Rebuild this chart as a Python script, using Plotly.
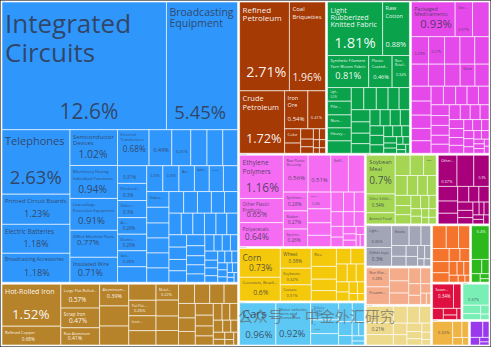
import plotly.graph_objects as go

# ---------------- data: share of total exports (%) ----------------
machines_names = ["Integrated Circuits", "Broadcasting Equipment", "Telephones", "Printed Circuit Boards",
                  "Electric Batteries", "Broadcasting Accessories", "Semiconductor Devices",
                  "Machinery Having Individual Functions", "Low-voltage Protection Equipment",
                  "Office Machine Parts", "Insulated Wire", "Electrical Transformers", "Electric Motors",
                  "Electric Heaters", "Computers", "Liquid Pumps", "Valves", "Electrical Lighting Equipment",
                  "Electrical Control Boards", "Other Electrical Machinery", "Air Pumps",
                  "Electric Soldering Equipment", "Gas Turbines", "Vacuum Cleaners", "Centrifuges",
                  "Electric Filament", "Air Conditioners", "Audio Alarms", "Other Heating Machinery",
                  "Video Displays"]
machines_values = [12.6, 5.45, 2.63, 1.23, 1.18, 1.18, 1.02, 0.94, 0.91, 0.77, 0.71, 0.68, 0.49, 0.41,
                   0.35, 0.34, 0.32, 0.31, 0.30, 0.30, 0.29, 0.29, 0.28, 0.27, 0.25, 0.25, 0.24, 0.23,
                   0.22, 0.21]
machines_other = [0.22, 0.21, 0.2, 0.2, 0.2, 0.19, 0.19, 0.18, 0.18, 0.17, 0.17, 0.16, 0.15, 0.15, 0.15,
                  0.14, 0.14, 0.13, 0.13, 0.12, 0.12, 0.12, 0.11, 0.1, 0.1, 0.09, 0.09, 0.08, 0.08, 0.07,
                  0.07, 0.06, 0.06, 0.05, 0.05, 0.05, 0.04, 0.04, 0.04, 0.03, 0.03, 0.03, 0.02, 0.02, 0.02]

metals_names = ["Hot-Rolled Iron", "Refined Copper", "Large Flat-Rolled Iron", "Scrap Iron", "Raw Aluminium",
                "Aluminium Plating", "Aluminium Bars", "Iron Structures", "Copper Wire",
                "Flat Flat-Rolled Steel", "Iron Fasteners", "Metal Stoppers"]
metals_values = [1.52, 0.68, 0.57, 0.47, 0.41, 0.39, 0.36, 0.34, 0.27, 0.26, 0.25, 0.22]
metals_other = [0.24, 0.22, 0.2, 0.2, 0.19, 0.18, 0.17, 0.16, 0.15, 0.14, 0.14, 0.13, 0.12, 0.11, 0.1,
                0.09, 0.08, 0.08, 0.07, 0.06, 0.05, 0.05, 0.04, 0.04, 0.03, 0.03]

mineral_names = ["Refined Petroleum", "Coal Briquettes", "Crude Petroleum", "Iron Ore", "Petroleum Gas", "Coke"]
mineral_values = [2.71, 1.96, 1.72, 0.54, 0.41, 0.14]
mineral_other = [0.1, 0.08, 0.06, 0.05, 0.04, 0.04, 0.03, 0.03, 0.02, 0.02]

textiles_names = ["Light Rubberized Knitted Fabric", "Raw Cotton", "Synthetic Filament Yarn Woven Fabric",
                  "Plastic Coated Textiles", "Non-Retail Synthetic Filament Yarn", "Light Pure Woven Cotton",
                  "Pile Fabric", "Non-woven Textiles", "Heavy Pure Woven Cotton"]
textiles_values = [1.81, 0.88, 0.81, 0.46, 0.34, 0.2, 0.2, 0.19, 0.19]
textiles_other = [0.18, 0.17, 0.17, 0.16, 0.15, 0.14, 0.14, 0.13, 0.12, 0.11, 0.1, 0.1, 0.1, 0.09, 0.08,
                  0.08, 0.07, 0.06, 0.06, 0.05, 0.05, 0.04, 0.04, 0.03, 0.03, 0.03, 0.02, 0.02]

chemicals_names = ["Packaged Medicaments", "Decorative Chemical Products", "Nitrogenous Fertilizers",
                   "Cyclic Hydrocarbons", "Other Organic Compounds", "Soap", "Beauty Products", "Pesticides",
                   "Paints", "Other Chemical Products", "Titanium Oxides", "Glues"]
chemicals_values = [0.93, 0.37, 0.35, 0.29, 0.27, 0.26, 0.25, 0.24, 0.23, 0.22, 0.21, 0.2]
chemicals_other = [0.19, 0.18, 0.17, 0.16, 0.15, 0.15, 0.14, 0.14, 0.13, 0.13, 0.12, 0.12, 0.11, 0.11,
                   0.1, 0.1, 0.1, 0.09, 0.09, 0.08, 0.08, 0.08, 0.07, 0.07, 0.06, 0.06, 0.05, 0.05, 0.05,
                   0.04, 0.04, 0.04, 0.03, 0.03, 0.03, 0.02, 0.02]

plastics_names = ["Ethylene Polymers", "Other Plastic Products", "Polyacetals", "Raw Plastic Sheeting",
                  "Propylene Polymers", "Self-adhesive Plastics", "Plastic Lids", "Synthetic Rubber",
                  "Rubber Tires", "Styrene Polymers", "Other Rubber Products"]
plastics_values = [1.16, 0.65, 0.64, 0.56, 0.51, 0.4, 0.36, 0.28, 0.27, 0.26, 0.24]
plastics_other = [0.2, 0.18, 0.16, 0.15, 0.13, 0.12, 0.11, 0.1, 0.09, 0.08, 0.07, 0.06, 0.05, 0.05,
                  0.04, 0.03, 0.03]

vegetable_names = ["Corn", "Coconuts, Brazil Nuts, and Cashews", "Wheat", "Soybeans", "Cassava", "Rice"]
vegetable_values = [0.73, 0.6, 0.38, 0.32, 0.31, 0.28]
vegetable_other = [0.2, 0.18, 0.16, 0.14, 0.13, 0.12, 0.1, 0.09, 0.08, 0.07, 0.06, 0.05, 0.04, 0.03]

transport_names = ["Cars", "Motor vehicles; parts and accessories", "Delivery Trucks", "Tractors"]
transport_values = [0.96, 0.92, 0.3, 0.24]
transport_other = [0.2, 0.16, 0.14, 0.12, 0.08, 0.06, 0.05, 0.04, 0.03]

food_names = ["Soybean Meal", "Other Edible Preparations", "Animal Food", "Raw Sugar"]
food_values = [0.7, 0.34, 0.2, 0.16]
food_other = [0.19, 0.17, 0.15, 0.13, 0.12, 0.11, 0.1, 0.09, 0.09, 0.08, 0.07, 0.06, 0.05, 0.05, 0.04,
              0.04, 0.03, 0.03]

footwear_names = ["Other Footwear", "Rubber Footwear", "Leather Footwear", "Textile Footwear", "Footwear Parts"]
footwear_values = [0.37, 0.33, 0.3, 0.18, 0.15]
footwear_other = [0.13, 0.11, 0.1, 0.1, 0.08, 0.07, 0.06, 0.05, 0.04, 0.04, 0.03, 0.03, 0.03]

misc_names = ["Light Fixtures", "Other Toys", "Seats"]
misc_values = [0.35, 0.3, 0.22]
misc_other = [0.15, 0.12, 0.1, 0.09, 0.08, 0.07, 0.06, 0.05, 0.03, 0.03]

animal_names = ["Non-fillet Frozen Fish", "Frozen Fish Fillets"]
animal_values = [0.28, 0.26]
animal_other = [0.16, 0.15, 0.14, 0.12, 0.1, 0.09, 0.07, 0.06, 0.04, 0.03]

stone_names = ["Kaolin", "Glass Fibers"]
stone_values = [0.28, 0.21]
stone_other = [0.18, 0.15, 0.13, 0.12, 0.1, 0.09, 0.08, 0.07, 0.06, 0.05, 0.04, 0.03]

instr_names = ["Medical Instruments", "Optical Fibers"]
instr_values = [0.2, 0.18]
instr_other = [0.16, 0.14, 0.12, 0.1, 0.09, 0.08, 0.07, 0.06, 0.05, 0.04, 0.03, 0.02]

byprod_names = ["Palm Oil"]
byprod_values = [0.4]
byprod_other = [0.1, 0.07, 0.05, 0.03, 0.02]

wood_names = ["Sawn Wood"]
wood_values = [0.34]
wood_other = [0.12, 0.08, 0.06, 0.04, 0.03]

paper_names = ["Uncoated Paper"]
paper_values = [0.37]
paper_other = [0.1, 0.07, 0.05, 0.03]

hides_names = ["Tanned Hides"]
hides_values = [0.32]
hides_other = [0.1, 0.07, 0.05, 0.03]

precious_names = ["Gold"]
precious_values = [0.14]
precious_other = [0.07, 0.05, 0.03, 0.02]

# ---------------- styling ----------------
DARK = "rgba(50,52,70,0.82)"
LIGHT = "rgba(255,255,255,0.95)"

sectors = [
    ("Machines", "#2f96fb", DARK, machines_names, machines_values, machines_other),
    ("Metals", "#b7832a", LIGHT, metals_names, metals_values, metals_other),
    ("Mineral Products", "#a53a05", LIGHT, mineral_names, mineral_values, mineral_other),
    ("Textiles", "#0aa34b", LIGHT, textiles_names, textiles_values, textiles_other),
    ("Chemical Products", "#e549ea", DARK, chemicals_names, chemicals_values, chemicals_other),
    ("Plastics and Rubbers", "#f56cf2", DARK, plastics_names, plastics_values, plastics_other),
    ("Vegetable Products", "#f4c80b", DARK, vegetable_names, vegetable_values, vegetable_other),
    ("Transportation", "#5dc8f3", DARK, transport_names, transport_values, transport_other),
    ("Foodstuffs", "#a4d654", DARK, food_names, food_values, food_other),
    ("Footwear and Headwear", "#a8007a", LIGHT, footwear_names, footwear_values, footwear_other),
    ("Miscellaneous", "#a2a5b6", DARK, misc_names, misc_values, misc_other),
    ("Animal Products", "#f5ac8a", DARK, animal_names, animal_values, animal_other),
    ("Stone And Glass", "#eeda8c", DARK, stone_names, stone_values, stone_other),
    ("Instruments", "#f4742d", LIGHT, instr_names, instr_values, instr_other),
    ("Animal and Vegetable Bi-Products", "#2db91e", LIGHT, byprod_names, byprod_values, byprod_other),
    ("Wood Products", "#df0f3f", LIGHT, wood_names, wood_values, wood_other),
    ("Paper Goods", "#79efb5", DARK, paper_names, paper_values, paper_other),
    ("Animal Hides", "#f0b444", DARK, hides_names, hides_values, hides_other),
    ("Precious Metals", "#9a38ee", LIGHT, precious_names, precious_values, precious_other),
]

# name: (shown label, show share, line-spacing font px, label px, share px, blank lines, share indent px)
STYLE = {
    "Integrated Circuits": ("Integrated<br>Circuits", True, 22, 26, 21, 1, 52),
    "Broadcasting Equipment": ("Broadcasting<br>Equipment", True, 8.8, 10.5, 18.5, 7, 6),
    "Telephones": ("Telephones", True, 15, 11, 18.5, 1, 5),
    "Printed Circuit Boards": ("Printed Circuit Boards", True, 10.5, 6, 9.2, 0, 18),
    "Electric Batteries": ("Electric Batteries", True, 10.5, 6.5, 9.2, 0, 18),
    "Broadcasting Accessories": ("Broadcasting Accessories", True, 11.5, 5, 9.2, 0, 18),
    "Semiconductor Devices": ("Semiconductor<br>Devices", True, 5.2, 6, 10.7, 1, 5),
    "Machinery Having Individual Functions": ("Machinery Having<br>Individual Functions", True, 5.2, 4.5, 10.7, 1, 5),
    "Low-voltage Protection Equipment": ("Low-voltage<br>Protection Equipment", True, 5.2, 4.5, 10.7, 1, 5),
    "Office Machine Parts": ("Office Machine Parts", True, 7, 5, 9.3, 0, 5),
    "Insulated Wire": ("Insulated Wire", True, 8, 5.5, 9.3, 0, 5),
    "Electrical Transformers": ("Electrical<br>Transformers", True, 4.5, 4.2, 9.3, 1, 2),
    "Electric Motors": ("", True, 6, 6, 6, 2, 2),
    "Electric Heaters": ("", True, 5, 5, 5, 3, 1),
    "Electrical Lighting Equipment": ("", True, 5, 5, 5, 1, 3),
    "Electrical Control Boards": ("Electrical...", True, 5, 4, 4.8, 0, 3),
    "Other Electrical Machinery": ("Other...", True, 5, 4, 4.8, 0, 3),
    "Air Pumps": ("Air...", True, 5, 4, 4.8, 0, 3),
    "Electric Soldering Equipment": ("Electric...", True, 5, 4, 4.8, 0, 3),
    "Gas Turbines": ("Gas...", True, 5, 4, 4.8, 0, 3),
    "Centrifuges": ("", True, 5, 4.8, 4.8, 1, 1),
    "Electric Filament": ("", True, 5, 4.8, 4.8, 1, 1),
    "Air Conditioners": ("Air...", False, 4.5, 4, 4, 0, 0),
    "Audio Alarms": ("Audio...", False, 4.5, 4, 4, 0, 0),
    "Other Heating Machinery": ("Other...", False, 4.5, 4, 4, 0, 0),
    "Video Displays": ("Video...", False, 4.5, 4, 4, 0, 0),
    # metals
    "Hot-Rolled Iron": ("Hot-Rolled Iron", True, 9.4, 7, 13.4, 1, 7),
    "Refined Copper": ("Refined Copper", True, 6, 4.5, 5, 0, 18),
    "Large Flat-Rolled Iron": ("Large Flat-Rolled...", True, 8.8, 4.3, 7, 0, 6),
    "Scrap Iron": ("Scrap Iron", True, 5, 4.5, 6.5, 0, 5),
    "Raw Aluminium": ("Raw Aluminium", True, 5, 4.3, 6.2, 0, 5),
    "Aluminium Plating": ("Aluminium...", True, 5, 4, 5.5, 0, 5),
    "Flat Flat-Rolled Steel": ("Flat Flat-...", True, 5, 4, 5, 0, 3),
    "Iron Fasteners": ("Iron...", False, 4.5, 4, 4, 0, 0),
    "Metal Stoppers": ("Metal...", True, 5, 4, 4.5, 0, 2),
    # mineral products
    "Refined Petroleum": ("Refined<br>Petroleum", True, 6.5, 8.5, 15.2, 6, 4),
    "Coal Briquettes": ("Coal<br>Briquettes", True, 6, 6, 10.4, 7, 1),
    "Crude Petroleum": ("Crude<br>Petroleum", True, 6.7, 7.8, 13.3, 3, 3),
    "Iron Ore": ("Iron<br>Ore", True, 5.5, 5.5, 6, 1, 0),
    "Petroleum Gas": ("", True, 4.5, 4.5, 4.5, 4, 0),
    "Coke": ("Coke", False, 4.5, 4.5, 4.5, 0, 0),
    # textiles
    "Light Rubberized Knitted Fabric": ("Light<br>Rubberized<br>Knitted Fabric", True, 5.6, 7.5, 15.4, 2, 4),
    "Raw Cotton": ("Raw<br>Cotton", True, 6.2, 6, 8.1, 3, 1),
    "Synthetic Filament Yarn Woven Fabric": ("Synthetic Filament<br>Yarn Woven Fabric", True, 4.5, 4.2, 9.5, 1, 6),
    "Plastic Coated Textiles": ("Plastic<br>Coated...", True, 4.5, 4.2, 6, 1, 1),
    "Non-Retail Synthetic Filament Yarn": ("Non-<br>Retail...", True, 4.5, 4, 4.5, 1, 1),
    "Light Pure Woven Cotton": ("Ligh...", True, 5, 4.2, 4.2, 0, 0),
    "Pile Fabric": ("Pile...", False, 4.5, 4.2, 4.2, 0, 0),
    "Non-woven Textiles": ("Non...", False, 4.5, 4.2, 4.2, 0, 0),
    "Heavy Pure Woven Cotton": ("Heavy...", False, 4.5, 4.2, 4.2, 0, 0),
    # chemicals
    "Packaged Medicaments": ("Packaged<br>Medicaments", True, 4.6, 5.5, 11.8, 1, 6),
    "Decorative Chemical Products": ("Dec...", True, 4.5, 4, 4, 3, 0),
    "Cyclic Hydrocarbons": ("", True, 4.5, 4, 4.2, 2, 0),
    "Other Organic Compounds": ("", True, 4.5, 4, 4.2, 2, 0),
    "Glues": ("Glues", False, 4.5, 4, 4, 0, 0),
    # plastics
    "Ethylene Polymers": ("Ethylene<br>Polymers", True, 7, 6.5, 11.9, 1, 4),
    "Other Plastic Products": ("Other Plastic<br>Products", True, 4, 4.5, 7.4, 0, 3),
    "Polyacetals": ("Polyacetals", True, 7, 5, 8.5, 0, 3),
    "Raw Plastic Sheeting": ("Raw Plastic<br>Sheeting", True, 4.2, 4.2, 7.2, 2, 2),
    "Propylene Polymers": ("", True, 5, 5, 6.2, 3, 0),
    "Self-adhesive Plastics": ("Self...", False, 4.5, 4.2, 4.2, 0, 0),
    "Synthetic Rubber": ("Synthetic...", True, 5.5, 3.8, 5.3, 0, 2),
    "Rubber Tires": ("Rubber", True, 5.5, 3.8, 5.3, 0, 2),
    "Styrene Polymers": ("Styrene...", True, 5.5, 3.8, 5.3, 0, 2),
    "Other Rubber Products": ("Other...", True, 5.5, 3.8, 5, 1, 2),
    # vegetable products
    "Corn": ("Corn", True, 8.8, 9, 8.9, 0, 6),
    "Coconuts, Brazil Nuts, and Cashews": ("Coconuts, Brazil...", True, 8, 4.2, 6.8, 0, 10),
    "Wheat": ("Wheat", True, 6, 5, 5.3, 0, 5),
    "Soybeans": ("Soybeans", True, 5, 4, 4.5, 0, 4),
    "Cassava": ("Cassava", True, 5, 4, 4.5, 0, 4),
    "Rice": ("Rice", False, 4.5, 4, 4, 0, 0),
    # transportation
    "Cars": ("Cars", True, 16.7, 12.4, 10.5, 0, 2),
    "Motor vehicles; parts and accessories": ("Motor vehicles;<br>parts and<br>accessories", True, 3.6, 4.3, 10, 3, 0),
    "Delivery Trucks": ("Delivery<br>Trucks", True, 4.5, 4.2, 5, 0, 2),
    "Tractors": ("Tr...", True, 4.5, 4.2, 4.5, 1, 2),
    # foodstuffs
    "Soybean Meal": ("Soybean<br>Meal", True, 5.4, 5.8, 10.4, 1, 0),
    "Other Edible Preparations": ("Other Edible...", True, 6, 4, 5.2, 0, 3),
    "Animal Food": ("Animal Food", False, 4.5, 4, 4, 0, 0),
    "Raw Sugar": ("Raw...", False, 4.5, 4, 4, 0, 0),
    # others
    "Other Footwear": ("Other...", True, 4.5, 4, 4.5, 3, 0),
    "Leather Footwear": ("", True, 4.5, 4.5, 4.5, 4, 2),
    "Light Fixtures": ("Light...", True, 5.5, 4.2, 5.2, 1, 3),
    "Other Toys": ("Other toys", True, 5.5, 4.2, 5.2, 0, 3),
    "Seats": ("Seats", False, 4.5, 4.2, 4.2, 0, 0),
    "Non-fillet Frozen Fish": ("Non-fillet...", True, 5.5, 4.2, 4.5, 0, 3),
    "Frozen Fish Fillets": ("Frozen...", False, 4.5, 4.2, 4.2, 0, 0),
    "Kaolin": ("Kaolin...", True, 6, 4.2, 4.5, 1, 2),
    "Glass Fibers": ("", True, 5, 4.5, 4.5, 0, 2),
    "Palm Oil": ("", True, 6, 5.5, 5.5, 0, 3),
    "Sawn Wood": ("Sawn...", True, 5.5, 4.2, 4.8, 0, 2),
    "Uncoated Paper": ("", True, 5, 5, 5, 2, 2),
    "Tanned Hides": ("", True, 5, 5, 5, 1, 2),
}

NB = "\u00a0"


def make_text(name, v):
    spec = STYLE.get(name)
    if not spec:
        return "", 6
    disp, show_pct, base, lpx, ppx, gap, indent = spec
    lines = []
    if disp:
        for part in disp.split("<br>"):
            lines.append(f"<span style='font-size:{lpx}px'>{part}</span>")
    if show_pct:
        lines += [NB] * gap
        pad = NB * int(round(indent / (0.26 * ppx)))
        lines.append(f"<span style='font-size:{ppx}px'>{pad}{v:g}%</span>")
    return "<br>".join(lines), base


ids, labels, parents, values, colors, texts, sizes, tcolors = [], [], [], [], [], [], [], []


def add(i, lab, par, val, col, txt, size, tcol):
    ids.append(i); labels.append(lab); parents.append(par); values.append(val)
    colors.append(col); texts.append(txt); sizes.append(size); tcolors.append(tcol)


add("root", "Exports", "", 0, "white", "", 6, DARK)
for sec, col, tcol, names, vals, other in sectors:
    add(sec, sec, "root", 0, "white", "", 6, tcol)
    items = list(zip(names, vals)) + [(f"{sec} (other {k + 1})", v) for k, v in enumerate(other)]
    items.sort(key=lambda t: -t[1])
    for name, v in items:
        txt, size = make_text(name, v)
        add(f"{sec}/{name}", name, sec, v, col, txt, size, tcol)

fig = go.Figure(go.Treemap(
    ids=ids, labels=labels, parents=parents, values=values,
    branchvalues="remainder", sort=False,
    text=texts, textinfo="text", textposition="top left",
    textfont=dict(family="Open Sans", size=sizes, color=tcolors),
    marker=dict(colors=colors, depthfade=False,
                line=dict(width=1, color="rgba(255,255,255,0.6)"),
                pad=dict(t=1, l=1, r=1, b=1)),
    tiling=dict(packing="squarify", squarifyratio=1.618034, pad=0),
    pathbar=dict(visible=False),
    hoverinfo="skip",
))

fig.add_annotation(
    text="公众号 · 中金外汇研究", x=0.808, y=0.056, xref="paper", yref="paper",
    showarrow=False, font=dict(family="Noto Sans CJK SC", size=15, color="rgba(90,90,90,0.6)"),
)

fig.update_layout(width=491, height=347, margin=dict(l=0, r=0, t=0, b=0),
                  paper_bgcolor="white", showlegend=False)

fig.write_html("out.html")
